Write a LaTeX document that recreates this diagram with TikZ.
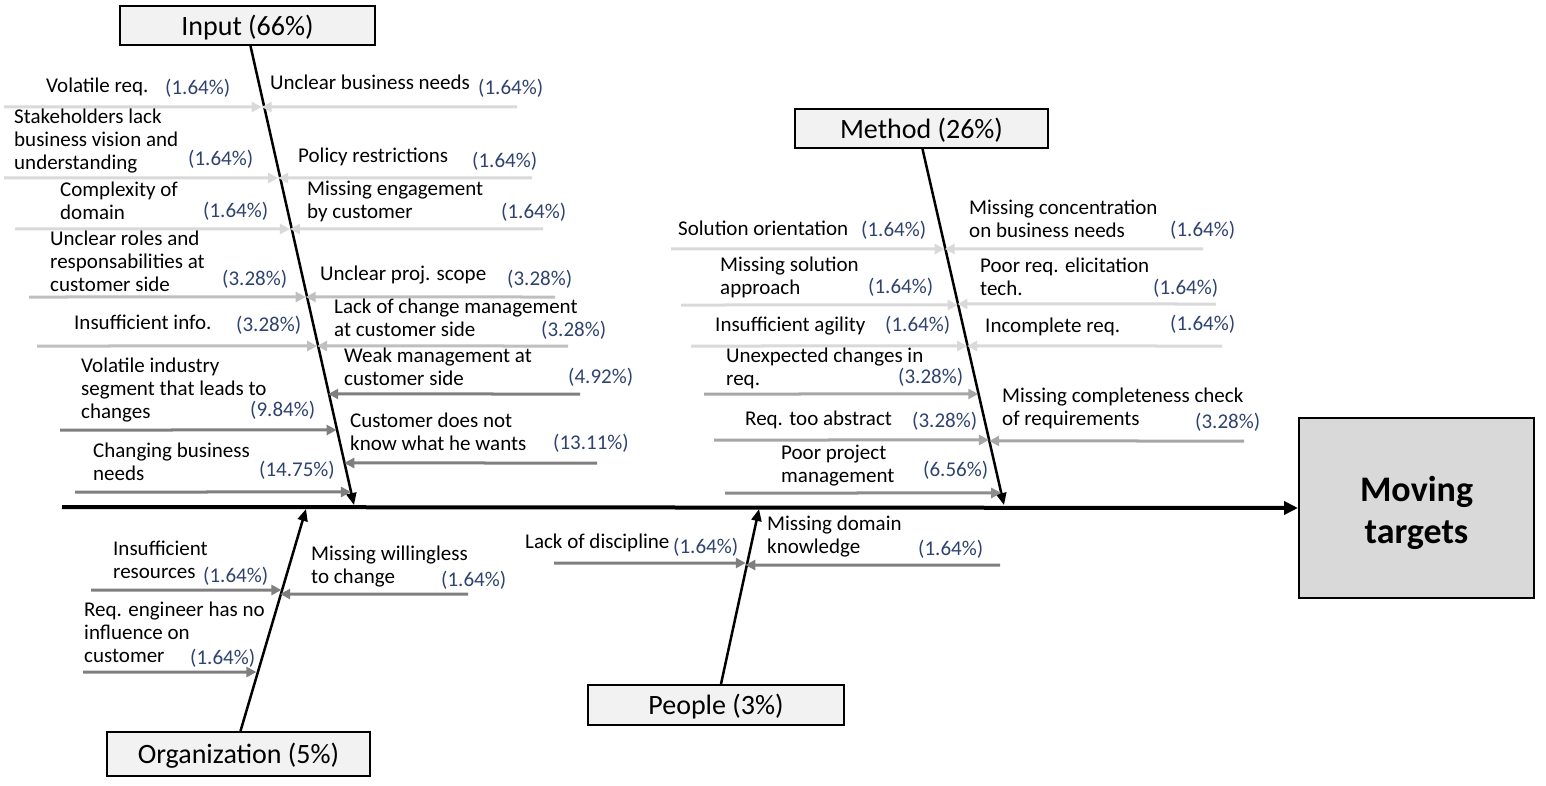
\documentclass[tikz,border=0pt]{standalone}
\usepackage{fontspec}
\setmainfont{Carlito}
\usetikzlibrary{arrows.meta,calc}

\definecolor{c1}{HTML}{D9D9D9}
\definecolor{c3}{HTML}{BFBFBF}
\definecolor{c5}{HTML}{A6A6A6}
\definecolor{c6}{HTML}{8C8C8C}
\definecolor{c9}{HTML}{7F7F7F}
\definecolor{pctblue}{HTML}{2F4370}
\definecolor{boxfill}{HTML}{F2F2F2}
\definecolor{goalfill}{HTML}{D9D9D9}

\newcommand\lblfont{\fontsize{21}{23}\selectfont}

\begin{document}
\begin{tikzpicture}[x=1pt,y=-1pt,
	box/.style={draw, line width=2pt, fill=boxfill, inner sep=0pt, text depth=1pt, font=\fontsize{28}{32}\selectfont},
	cause/.style={anchor=north west, align=left, inner sep=0pt, yshift=9pt, font=\lblfont, execute at begin node=\strut},
	pct/.style={anchor=west, inner sep=0pt, yshift=-2pt, text=pctblue, font=\lblfont},
	arr/.style={line width=3pt, draw=#1, -{Triangle[length=10pt,width=10pt]}},
	bone/.style={line width=2.5pt, -{Triangle[length=12pt,width=10pt]}}
]
\useasboundingbox (0,0) rectangle (1546,786);

% effect and spine
\node[draw, line width=2pt, fill=goalfill, minimum width=235pt, minimum height=180pt](goal) at(1416.5,508) {};
\node[align=center, font=\fontsize{36}{42}\selectfont\bfseries](goaltxt) at([yshift=-5pt]goal.center) {Moving\\targets};
\coordinate(tail) at(62,507);
\draw[line width=4pt, -{Triangle[length=14pt,width=13pt]}] (tail) -- (goal.west);

% categories
\node[box, minimum width=255pt, minimum height=39pt](input) at(247.5,25.5) {Input (66\%)};
\node[box, minimum width=253pt, minimum height=39pt](method) at(921.5,128.5) {Method (26\%)};
\node[box, minimum width=263pt, minimum height=44pt](org) at(238.5,754) {Organization (5\%)};
\node[box, minimum width=256pt, minimum height=40pt](people) at(716,705) {People (3\%)};

\coordinate(intip) at(354,505);
\coordinate(metip) at(1004,505);
\coordinate(ortip) at(306,509);
\coordinate(petip) at(759,509);

\draw[bone] ([xshift=3pt]input.south) -- (intip);
\draw[bone] ([xshift=1pt]method.south) -- (metip);
\draw[bone] ([xshift=2pt]org.north) -- (ortip);
\draw[bone] ([xshift=5pt]people.north) -- (petip);

% Input
\foreach [count=\i] \y/\xs/\c/\lx/\ly/\txt/\px/\py/\p in {
	107/4/c1/46/85/{Volatile req.}/165/86/1.64%
	,178/4/c1/14/118/{Stakeholders lack\\business vision and\\understanding}/188/157/1.64%
	,229/15/c1/60/191/{Complexity of\\domain}/203/209/1.64%
	,297/29/c3/50/240/{Unclear roles and\\responsabilities at\\customer side}/222/277/3.28%
	,346/37/c3/74/322/{Insufficient info.}/236/323/3.28%
	,430/60/c9/81/367/{Volatile industry\\segment that leads to\\changes}/250/408/9.84%
	,492/75/c9/93/452/{Changing business\\needs}/259/468/14.75%
}{
	\coordinate(inL\i) at(\xs,\y);
	\coordinate(inLx\i) at(intersection of input.south--intip and 0,\y--1,\y);
	\node[cause](inLt\i) at(\lx,\ly) {\txt};
	\node[pct](inLp\i) at(\px,\py) {(\p\%)};
	\draw[arr=\c] (inL\i) -- (inLx\i);
}

\foreach [count=\i] \y/\xs/\c/\lx/\ly/\txt/\px/\py/\p in {
	107/517/c1/270/82/{Unclear business needs}/478/86/1.64%
	,178/532/c1/298/155/{Policy restrictions}/472/159/1.64%
	,229/543/c1/307/190/{Missing engagement\\by customer}/501/210/1.64%
	,297/555/c3/320/273/{Unclear proj. scope}/507/277/3.28%
	,346/568/c3/334/308/{Lack of change management\\at customer side}/541/328/3.28%
	,394/580/c9/344/357/{Weak management at\\customer side}/568/375/4.92%
	,463/597/c9/350/422/{Customer does not\\know what he wants}/553/441/13.11%
}{
	\coordinate(inR\i) at(\xs,\y);
	\coordinate(inRx\i) at(intersection of input.south--intip and 0,\y--1,\y);
	\node[cause](inRt\i) at(\lx,\ly) {\txt};
	\node[pct](inRp\i) at(\px,\py) {(\p\%)};
	\draw[arr=\c] (inR\i) -- (inRx\i);
}

% Method
\foreach [count=\i] \y/\xs/\c/\lx/\ly/\txt/\px/\py/\p in {
	249/671/c1/678/228/{Solution orientation}/861/228/1.64%
	,305/681/c1/720/266/{Missing solution\\approach}/868/285/1.64%
	,346/691/c1/715/324/{Insufficient agility}/885/323/1.64%
	,394/704/c5/726/357/{Unexpected changes in\\req.}/898/375/3.28%
	,440/714/c5/745/418/{Req. too abstract}/912/419/3.28%
	,493/725/c6/781/454/{Poor project\\management}/923/468/6.56%
}{
	\coordinate(meL\i) at(\xs,\y);
	\coordinate(meLx\i) at(intersection of method.south--metip and 0,\y--1,\y);
	\node[cause](meLt\i) at(\lx,\ly) {\txt};
	\node[pct](meLp\i) at(\px,\py) {(\p\%)};
	\draw[arr=\c] (meL\i) -- (meLx\i);
}

\foreach [count=\i] \y/\xs/\c/\lx/\ly/\txt/\px/\py/\p in {
	249/1203/c1/969/209/{Missing concentration\\on business needs}/1170/228/1.64%
	,304/1216/c1/980/267/{Poor req. elicitation\\tech.}/1153/286/1.64%
	,346/1222/c1/985/325/{Incomplete req.}/1170/322/1.64%
	,441/1244/c5/1002/397/{Missing completeness check\\of requirements}/1195/420/3.28%
}{
	\coordinate(meR\i) at(\xs,\y);
	\coordinate(meRx\i) at(intersection of method.south--metip and 0,\y--1,\y);
	\node[cause](meRt\i) at(\lx,\ly) {\txt};
	\node[pct](meRp\i) at(\px,\py) {(\p\%)};
	\draw[arr=\c] (meR\i) -- (meRx\i);
}

% Organization and People
\foreach [count=\i] \y/\xs/\lx/\ly/\txt/\px/\py/\p in {
	590/91/113/550/{Insufficient\\resources}/203/574/1.64%
	,672/83/84/611/{Req. engineer has no\\influence on\\customer}/190/656/1.64%
	,594/468/311/555/{Missing willingless\\to change}/441/578/1.64%
	,563/554/525/541/{Lack of discipline}/673/545/1.64%
	,565/1000/767/525/{Missing domain\\knowledge}/918/547/1.64%
}{
	\coordinate(lo\i) at(\xs,\y);
	\node[cause](lot\i) at(\lx,\ly) {\txt};
	\node[pct](lop\i) at(\px,\py) {(\p\%)};
}
\coordinate(lox1) at(intersection of org.north--ortip and 0,590--1,590);
\coordinate(lox2) at(intersection of org.north--ortip and 0,672--1,672);
\coordinate(lox3) at(intersection of org.north--ortip and 0,594--1,594);
\coordinate(lox4) at(intersection of people.north--petip and 0,563--1,563);
\coordinate(lox5) at(intersection of people.north--petip and 0,565--1,565);
\foreach \u in {1,2,3,4,5}{
	\draw[arr=c9] (lo\u) -- (lox\u);
}

\end{tikzpicture}
\end{document}
